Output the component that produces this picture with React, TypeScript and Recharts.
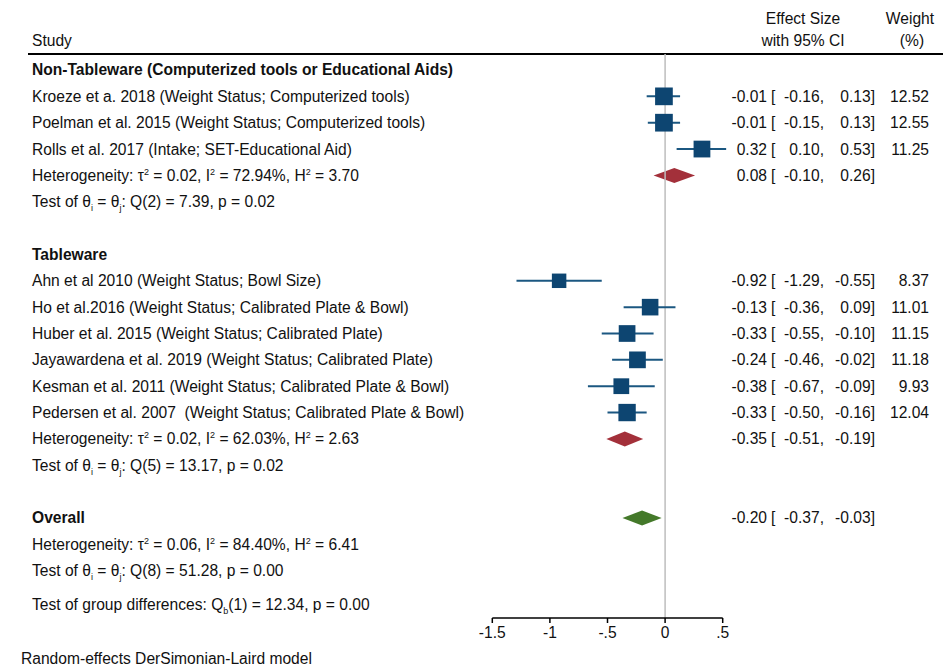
import React from "react";
import {
  ComposedChart,
  Scatter,
  ErrorBar,
  XAxis,
  YAxis,
  ReferenceLine,
  ReferenceArea,
} from "recharts";

// ---- data ----
const groupNames = [
  "Non-Tableware (Computerized tools or Educational Aids)",
  "Tableware",
];
const studyNames = [
  "Kroeze et a. 2018 (Weight Status; Computerized tools)",
  "Poelman et al. 2015 (Weight Status; Computerized tools)",
  "Rolls et al. 2017 (Intake; SET-Educational Aid)",
  "Ahn et al 2010 (Weight Status; Bowl Size)",
  "Ho et al.2016 (Weight Status; Calibrated Plate & Bowl)",
  "Huber et al. 2015 (Weight Status; Calibrated Plate)",
  "Jayawardena et al. 2019 (Weight Status; Calibrated Plate)",
  "Kesman et al. 2011 (Weight Status; Calibrated Plate & Bowl)",
  "Pedersen et al. 2007  (Weight Status; Calibrated Plate & Bowl)",
];
const studyGroup = [0, 0, 0, 1, 1, 1, 1, 1, 1];
const effect = [-0.01, -0.01, 0.32, -0.92, -0.13, -0.33, -0.24, -0.38, -0.33];
const lower = [-0.16, -0.15, 0.1, -1.29, -0.36, -0.55, -0.46, -0.67, -0.5];
const upper = [0.13, 0.13, 0.53, -0.55, 0.09, -0.1, -0.02, -0.09, -0.16];
const weights = [12.52, 12.55, 11.25, 8.37, 11.01, 11.15, 11.18, 9.93, 12.04];

const subEffect = [0.08, -0.35];
const subLower = [-0.1, -0.51];
const subUpper = [0.26, -0.19];
const subTau2 = ["0.02", "0.02"];
const subI2 = ["72.94", "62.03"];
const subH2 = ["3.70", "2.63"];
const subQdf = [2, 5];
const subQ = ["7.39", "13.17"];
const subP = ["0.02", "0.02"];

const overallEffect = -0.2;
const overallLower = -0.37;
const overallUpper = -0.03;
const overallStats = { tau2: "0.06", i2: "84.40", h2: "6.41", qdf: 8, q: "51.28", p: "0.00" };
const groupDiff = { df: 1, q: "12.34", p: "0.00" };

const xTicks = [-1.5, -1, -0.5, 0, 0.5];

// ---- styling ----
const FONT = '"Liberation Sans", Arial, Helvetica, sans-serif';
const FS = 15.6;
const SQUARE = "#0d4571";
const CI_LINE = "#1b5781";
const SUB_DIAMOND = "#a3303a";
const ALL_DIAMOND = "#44792a";

const fmt = (v: number) => v.toFixed(2);
const tickFmt = (v: number) => (v === 0 ? "0" : String(v).replace("0.", "."));

function hetText(tau2: string, i2: string, h2: string) {
  return (
    <>
      {"Heterogeneity: τ"}
      <tspan dy={-6} fontSize={9}>2</tspan>
      <tspan dy={6}>{" = " + tau2 + ", I"}</tspan>
      <tspan dy={-6} fontSize={9}>2</tspan>
      <tspan dy={6}>{" = " + i2 + "%, H"}</tspan>
      <tspan dy={-6} fontSize={9}>2</tspan>
      <tspan dy={6}>{" = " + h2}</tspan>
    </>
  );
}

function testText(df: number, q: string, p: string) {
  return (
    <>
      {"Test of θ"}
      <tspan dy={4} fontSize={9}>i</tspan>
      <tspan dy={-4}>{" = θ"}</tspan>
      <tspan dy={4} fontSize={9}>j</tspan>
      <tspan dy={-4}>{": Q(" + df + ") = " + q + ", p = " + p}</tspan>
    </>
  );
}

type Row = {
  pos: number;
  label: React.ReactNode;
  bold?: boolean;
  est?: number;
  lo?: number;
  hi?: number;
  w?: number;
};

// build table rows from the arrays
const rows: Row[] = [];
const squares: { x: number; y: number; err: number[]; w: number }[] = [];
const diamonds: { est: number; lo: number; hi: number; y: number; color: string }[] = [];
let pos = 0;
groupNames.forEach((g, gi) => {
  rows.push({ pos: pos++, label: g, bold: true });
  studyNames.forEach((s, si) => {
    if (studyGroup[si] !== gi) return;
    rows.push({ pos, label: s, est: effect[si], lo: lower[si], hi: upper[si], w: weights[si] });
    squares.push({
      x: effect[si],
      y: pos,
      err: [effect[si] - lower[si], upper[si] - effect[si]],
      w: weights[si],
    });
    pos++;
  });
  rows.push({ pos, label: hetText(subTau2[gi], subI2[gi], subH2[gi]), est: subEffect[gi], lo: subLower[gi], hi: subUpper[gi] });
  diamonds.push({ est: subEffect[gi], lo: subLower[gi], hi: subUpper[gi], y: pos, color: SUB_DIAMOND });
  pos++;
  rows.push({ pos: pos++, label: testText(subQdf[gi], subQ[gi], subP[gi]) });
  pos++; // blank line
});
rows.push({ pos, label: "Overall", bold: true, est: overallEffect, lo: overallLower, hi: overallUpper });
diamonds.push({ est: overallEffect, lo: overallLower, hi: overallUpper, y: pos, color: ALL_DIAMOND });
pos++;
rows.push({ pos: pos++, label: hetText(overallStats.tau2, overallStats.i2, overallStats.h2) });
rows.push({ pos: pos, label: testText(overallStats.qdf, overallStats.q, overallStats.p) });
rows.push({
  pos: pos + 1.3,
  label: (
    <>
      {"Test of group differences: Q"}
      <tspan dy={4} fontSize={9}>b</tspan>
      <tspan dy={-4}>{"(" + groupDiff.df + ") = " + groupDiff.q + ", p = " + groupDiff.p}</tspan>
    </>
  ),
});

const rowMap = new Map(rows.map((r) => [r.pos.toFixed(2), r]));

const RowTick = (props: any) => {
  const { y, payload } = props;
  const r = rowMap.get(Number(payload.value).toFixed(2));
  if (!r) return null;
  const t = { fontFamily: FONT, fontSize: FS, fill: "#111", dy: "0.35em" };
  return (
    <g>
      <text
        x={32}
        y={y}
        {...t}
        fontWeight={r.bold ? 700 : 400}
        textAnchor="start"
        style={{ whiteSpace: "pre" }}
      >
        {r.label}
      </text>
      {r.est !== undefined && (
        <>
          <text x={767} y={y} {...t} textAnchor="end">{fmt(r.est)}</text>
          <text x={771} y={y} {...t} textAnchor="start">[</text>
          <text x={824} y={y} {...t} textAnchor="end">{fmt(r.lo as number) + ","}</text>
          <text x={875} y={y} {...t} textAnchor="end">{fmt(r.hi as number) + "]"}</text>
          {r.w !== undefined && (
            <text x={929} y={y} {...t} textAnchor="end">{fmt(r.w)}</text>
          )}
        </>
      )}
    </g>
  );
};

const SquareShape = (props: any) => {
  const { cx, cy, payload } = props;
  const s = 5 * Math.sqrt(payload.w);
  return <rect x={cx - s / 2} y={cy - s / 2} width={s} height={s} fill={SQUARE} />;
};

const diamondShape = (d: { est: number; lo: number; hi: number; color: string }) => (p: any) => {
  const { x, y, width, height } = p;
  const cy = y + height / 2;
  const cx = x + (width * (d.est - d.lo)) / (d.hi - d.lo);
  const h = 7.5;
  return (
    <polygon
      points={`${x},${cy} ${cx},${cy - h} ${x + width},${cy} ${cx},${cy + h}`}
      fill={d.color}
    />
  );
};

const headStyle: React.CSSProperties = {
  position: "absolute",
  fontFamily: FONT,
  fontSize: FS,
  color: "#111",
  lineHeight: "18px",
  whiteSpace: "nowrap",
};

export default function App() {
  return (
    <div style={{ position: "absolute", left: 0, top: 0, width: 944, height: 667, background: "#fff" }}>
      <div style={{ ...headStyle, left: 32, top: 32 }}>Study</div>
      <div style={{ ...headStyle, left: 743, width: 120, textAlign: "center", top: 10 }}>Effect Size</div>
      <div style={{ ...headStyle, left: 743, width: 120, textAlign: "center", top: 32 }}>with 95% CI</div>
      <div style={{ ...headStyle, left: 870, width: 80, textAlign: "center", top: 10 }}>Weight</div>
      <div style={{ ...headStyle, left: 872, width: 80, textAlign: "center", top: 32 }}>(%)</div>
      <div style={{ position: "absolute", left: 28, top: 53, width: 915, height: 2, background: "#000" }} />

      <ComposedChart
        width={944}
        height={667}
        margin={{ top: 54, right: 221.3, bottom: 0, left: 0 }}
        style={{ position: "absolute", left: 0, top: 0 }}
      >
        <XAxis
          type="number"
          dataKey="x"
          domain={[-1.5, 0.5]}
          ticks={xTicks}
          allowDataOverflow
          interval={0}
          tickFormatter={tickFmt}
          height={49}
          tickSize={5}
          tickMargin={4}
          axisLine={{ stroke: "#000", strokeWidth: 1.5 }}
          tickLine={{ stroke: "#000", strokeWidth: 1.5 }}
          tick={{ fill: "#111", fontSize: FS, fontFamily: FONT }}
        />
        <YAxis
          type="number"
          dataKey="y"
          domain={[-0.607, 20.797]}
          reversed
          allowDataOverflow
          ticks={rows.map((r) => r.pos)}
          interval={0}
          width={492.3}
          axisLine={false}
          tickLine={false}
          tick={<RowTick />}
        />
        <ReferenceLine x={0} stroke="#bdbdbd" strokeWidth={1.5} />
        {diamonds.map((d, i) => (
          <ReferenceArea
            key={i}
            x1={d.lo}
            x2={d.hi}
            y1={d.y - 0.3}
            y2={d.y + 0.3}
            shape={diamondShape(d)}
          />
        ))}
        <Scatter data={squares} shape={<SquareShape />} isAnimationActive={false}>
          <ErrorBar
            dataKey="err"
            direction="x"
            width={0}
            stroke={CI_LINE}
            strokeWidth={2}
            isAnimationActive={false}
          />
        </Scatter>
      </ComposedChart>

      <div style={{ ...headStyle, left: 21, top: 650 }}>Random-effects DerSimonian-Laird model</div>
    </div>
  );
}
